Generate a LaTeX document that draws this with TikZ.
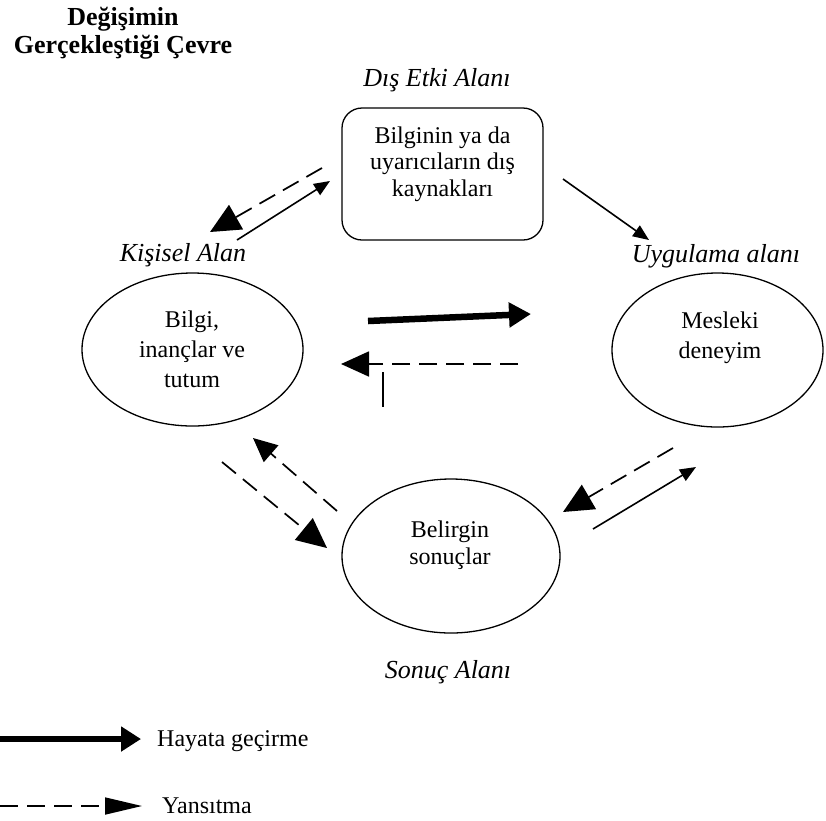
\documentclass[tikz,border=0pt]{standalone}
\usepackage{fontspec}
\setmainfont{Liberation Serif}
\usetikzlibrary{arrows.meta,shapes.geometric}
\begin{document}
\begin{tikzpicture}[x=1pt,y=-1pt,
  body/.style={font=\fontsize{24}{30}\selectfont, align=center, inner sep=0pt},
  area/.style={font=\fontsize{26}{30}\selectfont\itshape, inner sep=0pt},
  zone/.style={draw, line width=1.3pt, ellipse, inner sep=0pt},
  srcbox/.style={draw, line width=1.3pt, rounded corners=20pt, inner sep=0pt},
  act/.style={line width=1.6pt},
  actbold/.style={line width=6.5pt},
  refl/.style={line width=1.7pt, dash pattern=on 18pt off 9pt},
  bighead/.style={-{Triangle[length=30pt,width=28pt]}},
  midhead/.style={-{Triangle[length=24pt,width=22pt]}},
  smallhead/.style={-{Triangle[length=16pt,width=13pt]}}]
\useasboundingbox (0,0) rectangle (826,820);

% title
\node[font=\fontsize{26}{28}\selectfont\bfseries, align=center, inner sep=0pt] (title) at (123,33)
  {Değişimin\\Gerçekleştiği Çevre};

% area labels
\node[area] (dis) at (437,80) {Dış Etki Alanı};
\node[area] (kisisel) at (183,255) {Kişisel Alan};
\node[area] (uyg) at (716,256) {Uygulama alanı};
\node[area] (sonuc) at (448,672) {Sonuç Alanı};

% source box
\node[srcbox, minimum width=201pt, minimum height=132pt] (kaynak) at (442.5,174) {};
\node[body, font=\fontsize{24}{26.5}\selectfont] (kaynaktxt) at (442.5,164) {Bilginin ya da\\uyarıcıların dış\\kaynakları};

% ellipses
\node[zone, minimum width=221pt, minimum height=153pt] (bilgi) at (192.5,349.5) {};
\node[body] (bilgitxt) at (192,349) {Bilgi,\\inançlar ve\\tutum};

\node[zone, minimum width=211pt, minimum height=154pt] (mesleki) at (717.5,350) {};
\node[body] (meslekitxt) at (720,338) {Mesleki\\deneyim};

\node[zone, minimum width=218pt, minimum height=154pt] (belirgin) at (451,556) {};
\node[body, font=\fontsize{24}{27}\selectfont] (belirgintxt) at (450,545) {Belirgin\\sonuçlar};

% arrow end points
\coordinate (p1s) at (563,179);  \coordinate (p1e) at (649,240);
\coordinate (p2s) at (322,168);  \coordinate (p2e) at (210,232);
\coordinate (p3s) at (237,240);  \coordinate (p3e) at (330,181);
\coordinate (p4s) at (368,321);  \coordinate (p4e) at (531,314);
\coordinate (p5s) at (518,364);  \coordinate (p5e) at (341,364);
\coordinate (p6s) at (383,372);  \coordinate (p6e) at (383,407);
\coordinate (p7s) at (222,462);  \coordinate (p7e) at (327,548);
\coordinate (p8s) at (337,511);  \coordinate (p8e) at (253,438);
\coordinate (p9s) at (673,448);  \coordinate (p9e) at (563,512);
\coordinate (p10s) at (593,529); \coordinate (p10e) at (696,467);

% connectors
\draw[act, smallhead] (p1s) -- (p1e);
\draw[refl, bighead] (p2s) -- (p2e);
\draw[act, smallhead] (p3s) -- (p3e);
\draw[actbold, -{Triangle[length=22pt,width=24pt]}] (p4s) -- (p4e);
\draw[refl, -{Triangle[length=28pt,width=25pt]}] (p5s) -- (p5e);
\draw[act] (p6s) -- (p6e);
\draw[refl, bighead] (p7s) -- (p7e);
\draw[refl, midhead] (p8s) -- (p8e);
\draw[refl, bighead] (p9s) -- (p9e);
\draw[act, smallhead] (p10s) -- (p10e);

% legend
\coordinate (l1s) at (0,739);  \coordinate (l1e) at (141,739);
\coordinate (l2s) at (0,806);  \coordinate (l2e) at (142,806);
\draw[actbold, -{Triangle[length=20pt,width=24pt]}] (l1s) -- (l1e);
\draw[refl, -{Triangle[length=37pt,width=17pt]}] (l2s) -- (l2e);
\node[body, anchor=west] (leg1) at (157,741) {Hayata geçirme};
\node[body, anchor=west] (leg2) at (162,806) {Yansıtma};
\end{tikzpicture}
\end{document}
